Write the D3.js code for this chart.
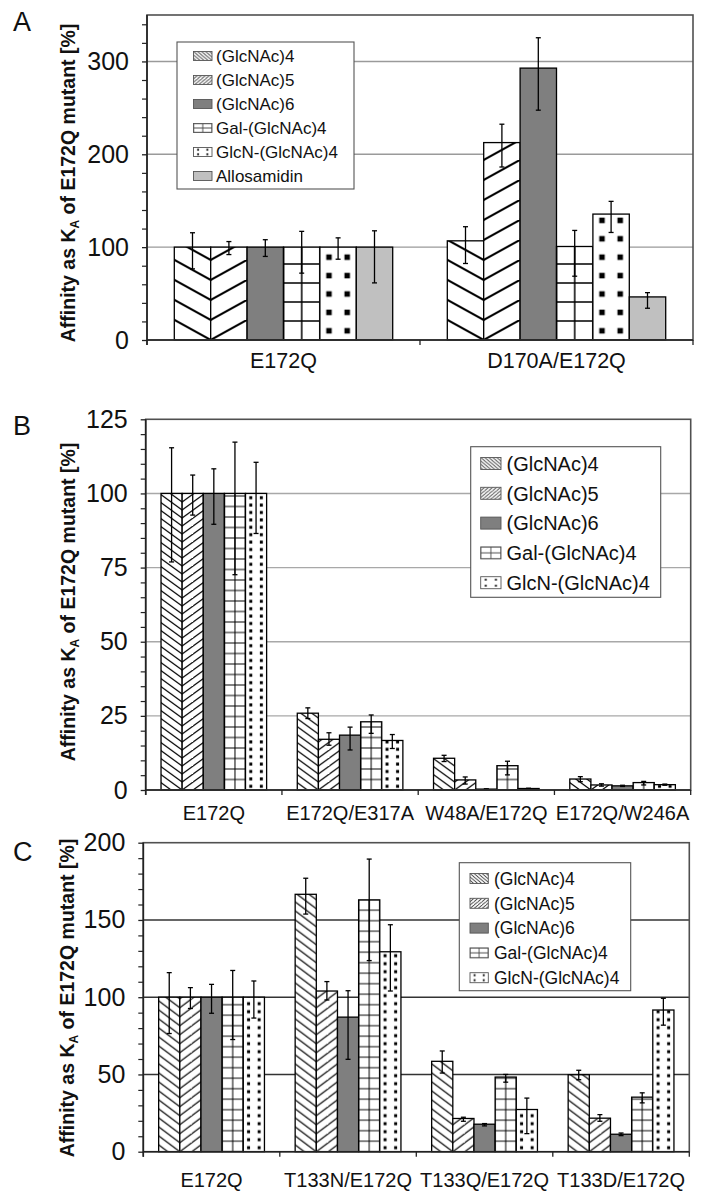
<!DOCTYPE html>
<html>
<head>
<meta charset="utf-8">
<script src="https://cdn.jsdelivr.net/npm/d3@7"></script>
<style>
  body { margin: 0; background: #fff; }
  svg { display: block; }
  text { font-family: Arial, "Liberation Sans", sans-serif; fill: #111; }
</style>
</head>
<body>
<svg id="chart" width="701" height="1191"></svg>
<script>
// ---------- data ----------
const seriesA = ["(GlcNAc)4", "(GlcNAc)5", "(GlcNAc)6", "Gal-(GlcNAc)4", "GlcN-(GlcNAc)4", "Allosamidin"];
const seriesBC = ["(GlcNAc)4", "(GlcNAc)5", "(GlcNAc)6", "Gal-(GlcNAc)4", "GlcN-(GlcNAc)4"];

// Panel A
const categoriesA = ["E172Q", "D170A/E172Q"];
const valuesA = [[100, 100, 100, 100, 100, 100], [106.8, 212.6, 292.8, 100.7, 135.6, 46.4]];
const errHighA = [[115.5, 106, 108, 117, 110, 117.6], [122, 232.4, 325.5, 118, 149.3, 51]];
const errLowA = [[76.6, 92, 90, 72, 87, 61.5], [82.4, 186.3, 247.5, 68.7, 115.8, 34.2]];
const ticksA = [0, 100, 200, 300];

// Panel B
const categoriesB = ["E172Q", "E172Q/E317A", "W48A/E172Q", "E172Q/W246A"];
const valuesB = [[100, 100, 100, 100, 100], [25.9, 17.1, 18.5, 23.0, 16.7], [10.7, 3.4, 0.3, 8.2, 0.5], [3.7, 1.7, 1.4, 2.5, 1.8]];
const errHighB = [[115.4, 106.2, 108.3, 117.3, 110.5], [27.7, 19.3, 21.2, 25.3, 18.7], [11.7, 4.4, 0.4, 9.7, 0.6], [4.5, 2.1, 1.6, 2.9, 2.0]];
const errLowB = [[76.9, 92.7, 89.6, 72.6, 86.5], [24.1, 15.1, 13.5, 19.1, 14.0], [9.6, 2.0, 0.2, 5.1, 0.4], [2.8, 1.3, 1.2, 1.7, 1.6]];
const ticksB = [0, 25, 50, 75, 100, 125];

// Panel C
const categoriesC = ["E172Q", "T133N/E172Q", "T133Q/E172Q", "T133D/E172Q"];
const valuesC = [[100, 100, 100, 100, 100], [166.6, 104, 87.1, 163, 129.4], [58.5, 21.5, 17.8, 48.3, 27.3], [49.8, 21.7, 11.3, 35.3, 91.7]];
const errHighC = [[115.9, 106.2, 108.3, 117.3, 110.5], [177, 110.1, 104.2, 189.4, 146.9], [65.2, 22.3, 18.2, 50, 34.7], [52.7, 24, 12.1, 38.1, 99.3]];
const errLowC = [[76.5, 92.7, 89.6, 72.6, 86.5], [153.8, 98.2, 59.8, 123.7, 104], [50.9, 19.7, 16.7, 45, 11.7], [46.6, 19.7, 10.4, 31.6, 81.9]];
const ticksC = [0, 50, 100, 150, 200];

// fill style per series position
const fillKinds = ["down", "up", "solid", "grid", "dots", "solid"];
const solidColors = { 2: "#7f7f7f", 5: "#c0c0c0" };

// ---------- layout ----------
const panels = [
  { id: "A", cats: categoriesA, series: seriesA, vals: valuesA, hi: errHighA, lo: errLowA, ticks: ticksA,
    left: 147, right: 693, top: 15, bottom: 340, yMax: 350, minorStep: 20, grid: "#9a9a9a", frac: 0.8,
    labelY: 368, labelFont: 21.5, letterY: 31, titleX: 68, titleY: 183,
    legend: { x: 177, y: 42, w: 177, h: 147, swX: 193.5, swW: 18.5, swH: 9, textX: 216, row0: 56, step: 24, font: 17 },
    pat: { dh: 20, dw: 36, dsw: 2, gh: 19, gsw: 1.5, ph: 18.4, dot: 5.5 } },
  { id: "B", cats: categoriesB, series: seriesBC, vals: valuesB, hi: errHighB, lo: errLowB, ticks: ticksB,
    left: 145.7, right: 690.7, top: 419.3, bottom: 790, yMax: 125, minorStep: 5, grid: "#a8a8a8", frac: 0.775,
    labelY: 820, labelFont: 20, letterY: 435, titleX: 68, titleY: 602,
    legend: { x: 470.7, y: 446.7, w: 190, h: 150.6, swX: 480.7, swW: 20.3, swH: 12, textX: 506.5, row0: 463.5, step: 29.8, font: 20 },
    pat: { dh: 8, dw: 11, dsw: 1.2, gh: 10.5, gsw: 1, ph: 7.4, dot: 3 } },
  { id: "C", cats: categoriesC, series: seriesBC, vals: valuesC, hi: errHighC, lo: errLowC, ticks: ticksC,
    left: 143.3, right: 689.3, top: 842.7, bottom: 1151.7, yMax: 200, minorStep: 10, grid: "#333", frac: 0.775,
    labelY: 1187, labelFont: 20, letterY: 860.5, titleX: 67, titleY: 998,
    legend: { x: 459.3, y: 862.7, w: 171.4, h: 128, swX: 470, swW: 18.3, swH: 10, textX: 494, row0: 878.5, step: 24.8, font: 17.5 },
    pat: { dh: 9, dw: 12, dsw: 1.2, gh: 10.5, gsw: 1, ph: 8, dot: 3 } }
];

const svg = d3.select("#chart");
const defs = svg.append("defs");

// tiled fill anchored at (ax, ay)
function makePattern(id, kind, ax, ay, W, H, opt) {
  const p = defs.append("pattern").attr("id", id)
    .attr("patternUnits", "userSpaceOnUse")
    .attr("x", ax).attr("y", ay).attr("width", W).attr("height", H);
  p.append("rect").attr("width", W).attr("height", H).attr("fill", "#fff");
  if (kind === "down" || kind === "up") {
    const s = kind === "down" ? 1 : -1;
    let d = "";
    for (let k = -1; k <= 1; k++) {
      d += `M${-W},${-s * H + k * H}L${2 * W},${2 * s * H + k * H}`;
    }
    p.append("path").attr("d", d).attr("fill", "none")
      .attr("stroke", opt.color).attr("stroke-width", opt.sw);
  } else if (kind === "grid") {
    p.append("path").attr("d", `M0,0H${W}M0,${H}H${W}M0,0V${H}M${W},0V${H}`)
      .attr("fill", "none").attr("stroke", opt.color).attr("stroke-width", opt.sw);
  } else if (kind === "dots") {
    p.append("rect").attr("x", W / 2 - opt.dot / 2).attr("y", H / 2 - opt.dot / 2)
      .attr("width", opt.dot).attr("height", opt.dot).attr("fill", opt.color);
  }
  return `url(#${id})`;
}

function drawPanel(P) {
  const g = svg.append("g").attr("class", "panel-" + P.id);
  const y = d3.scaleLinear().domain([0, P.yMax]).range([P.bottom, P.top]);
  const x0 = d3.scaleBand().domain(P.cats).range([P.left, P.right]).padding(0);
  const bw0 = x0.bandwidth();
  const x1 = d3.scaleBand().domain(P.series)
    .range([bw0 * (1 - P.frac) / 2, bw0 * (1 + P.frac) / 2]).padding(0);
  const w = x1.bandwidth();

  // horizontal gridlines
  const gridVals = P.ticks.filter(t => t > 0 && t < P.yMax);
  g.append("g").selectAll("line").data(gridVals).join("line")
    .attr("x1", P.left).attr("x2", P.right)
    .attr("y1", d => y(d)).attr("y2", d => y(d))
    .attr("stroke", P.grid).attr("stroke-width", 1.4);

  // bars
  const bars = [];
  P.cats.forEach((c, ci) => {
    P.series.forEach((s, si) => {
      bars.push({ ci, si, x: x0(c) + x1(s), v: P.vals[ci][si], hi: P.hi[ci][si], lo: P.lo[ci][si] });
    });
  });
  const pt = P.pat;
  bars.forEach(b => {
    const kind = fillKinds[b.si];
    const id = `f${P.id}-${b.ci}-${b.si}`;
    let fill;
    if (kind === "solid") fill = solidColors[b.si];
    else if (kind === "down") fill = makePattern(id, "down", b.x + w, P.bottom, pt.dw, pt.dh, { color: "#000", sw: pt.dsw });
    else if (kind === "up") fill = makePattern(id, "up", b.x, P.bottom, pt.dw, pt.dh, { color: "#000", sw: pt.dsw });
    else if (kind === "grid") fill = makePattern(id, "grid", b.x, P.bottom, w / 2, pt.gh, { color: "#000", sw: pt.gsw });
    else if (kind === "dots") fill = makePattern(id, "dots", b.x, P.bottom, w / 2, pt.ph, { color: "#000", dot: pt.dot });
    b.fill = fill;
  });
  g.append("g").selectAll("rect").data(bars).join("rect")
    .attr("x", d => d.x).attr("width", w)
    .attr("y", d => y(d.v)).attr("height", d => P.bottom - y(d.v))
    .attr("fill", d => d.fill)
    .attr("stroke", "#000").attr("stroke-width", 1.3);

  // error bars
  const eb = g.append("g").attr("stroke", "#000").attr("stroke-width", 1.3);
  bars.forEach(b => {
    const cx = b.x + w / 2;
    eb.append("line").attr("x1", cx).attr("x2", cx).attr("y1", y(b.hi)).attr("y2", y(b.lo));
    eb.append("line").attr("x1", cx - 2.5).attr("x2", cx + 2.5).attr("y1", y(b.hi)).attr("y2", y(b.hi));
    eb.append("line").attr("x1", cx - 2.5).attr("x2", cx + 2.5).attr("y1", y(b.lo)).attr("y2", y(b.lo));
  });

  // plot frame
  g.append("rect").attr("x", P.left).attr("y", P.top)
    .attr("width", P.right - P.left).attr("height", P.bottom - P.top)
    .attr("fill", "none").attr("stroke", "#505050").attr("stroke-width", 1.6);
  g.append("line").attr("x1", P.left).attr("x2", P.right)
    .attr("y1", P.bottom).attr("y2", P.bottom)
    .attr("stroke", "#222").attr("stroke-width", 1.6);

  // legend
  const L = P.legend;
  const lg = g.append("g");
  lg.append("rect").attr("x", L.x).attr("y", L.y).attr("width", L.w).attr("height", L.h)
    .attr("fill", "#fff").attr("stroke", "#555").attr("stroke-width", 1.1);
  P.series.forEach((s, si) => {
    const cy = L.row0 + si * L.step;
    const sx = L.swX, sy = cy - L.swH / 2;
    const kind = fillKinds[si];
    const id = `l${P.id}-${si}`;
    let fill;
    if (kind === "solid") fill = solidColors[si];
    else if (kind === "grid") fill = makePattern(id, "grid", sx, sy, L.swW / 2, L.swH / 2, { color: "#444", sw: 0.9 });
    else if (kind === "dots") fill = makePattern(id, "dots", sx, sy, L.swW / 2, L.swH / 2, { color: "#222", dot: 2 });
    else fill = makePattern(id, kind, sx, sy, 4, 3.4, { color: "#444", sw: 0.9 });
    lg.append("rect").attr("x", sx).attr("y", sy).attr("width", L.swW).attr("height", L.swH)
      .attr("fill", fill).attr("stroke", "#555").attr("stroke-width", 0.9);
    lg.append("text").attr("x", L.textX).attr("y", cy).attr("dy", "0.36em")
      .attr("font-size", L.font).text(s);
  });

  // y axis: major ticks with labels, minor ticks
  const yAxis = g.append("g").attr("transform", `translate(${P.left},0)`)
    .call(d3.axisLeft(y).tickValues(P.ticks).tickSize(5).tickPadding(13));
  yAxis.select(".domain").remove();
  yAxis.selectAll(".tick line").attr("stroke", "#222").attr("stroke-width", 1.3);
  yAxis.selectAll(".tick text").attr("font-size", 25).attr("font-family", "Arial, 'Liberation Sans', sans-serif").attr("fill", "#111");
  const minor = d3.range(0, P.yMax + 1e-6, P.minorStep).filter(v => !P.ticks.includes(v));
  const yMinor = g.append("g").attr("transform", `translate(${P.left},0)`)
    .call(d3.axisLeft(y).tickValues(minor).tickSize(5).tickFormat(""));
  yMinor.select(".domain").remove();
  yMinor.selectAll(".tick line").attr("stroke", "#222").attr("stroke-width", 1.2);
  g.append("line").attr("x1", P.left).attr("x2", P.left)
    .attr("y1", P.top).attr("y2", P.bottom + 5)
    .attr("stroke", "#222").attr("stroke-width", 1.6);

  // x axis: boundary ticks and category labels
  const bounds = P.cats.map(c => x0(c)).concat([P.right]);
  g.append("g").selectAll("line").data(bounds).join("line")
    .attr("x1", d => d).attr("x2", d => d)
    .attr("y1", P.bottom).attr("y2", P.bottom + 5)
    .attr("stroke", "#222").attr("stroke-width", 1.3);
  g.append("g").selectAll("text").data(P.cats).join("text")
    .attr("x", d => x0(d) + bw0 / 2).attr("y", P.labelY)
    .attr("text-anchor", "middle").attr("font-size", P.labelFont).text(d => d);

  // axis title
  const t = g.append("text")
    .attr("transform", `translate(${P.titleX},${P.titleY}) rotate(-90)`)
    .attr("text-anchor", "middle").attr("dy", "0.35em")
    .attr("font-size", 19.5).attr("font-weight", "bold");
  t.append("tspan").text("Affinity as K");
  t.append("tspan").attr("font-size", 12).attr("dy", 4).text("A");
  t.append("tspan").attr("dy", -4).text(" of E172Q mutant [%]");

  // panel letter
  g.append("text").attr("x", 13).attr("y", P.letterY)
    .attr("font-size", 27).text(P.id);
}

panels.forEach(drawPanel);
</script>
</body>
</html>
